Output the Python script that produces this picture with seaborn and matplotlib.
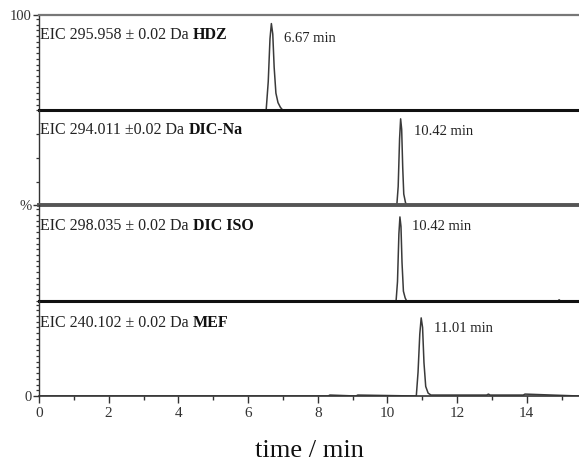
import matplotlib
matplotlib.use("Agg")
import matplotlib.pyplot as plt
import seaborn as sns
import numpy as np
from matplotlib.ticker import MultipleLocator, FixedLocator

sns.set_style("white")
plt.rcParams['font.family'] = ['Liberation Serif', 'DejaVu Serif']

# ---- data ----
mass_labels = ["EIC 295.958 \u00b1 0.02 Da ", "EIC 294.011 \u00b10.02 Da ",
               "EIC 298.035 \u00b1 0.02 Da ", "EIC 240.102 \u00b1 0.02 Da "]
compounds = ["HDZ", "DIC-Na", "DIC ISO", "MEF"]
rt_labels = ["6.67 min", "10.42 min", "10.42 min", "11.01 min"]

hdz_t = [0.0, 6.52, 6.58, 6.63, 6.67, 6.71, 6.75, 6.80, 6.86, 6.93, 7.0, 15.5]
hdz_i = [0, 0, 30, 75, 91, 80, 45, 18, 8, 3, 0, 0]

dicna_t = [0.0, 10.27, 10.31, 10.35, 10.38, 10.41, 10.44, 10.47, 10.52, 10.56, 15.5]
dicna_i = [0, 0, 20, 70, 91, 80, 40, 12, 3, 0, 0]

diciso_t = [0.0, 10.25, 10.29, 10.33, 10.36, 10.39, 10.42, 10.46, 10.51, 10.55, 14.9, 14.93, 14.96, 15.5]
diciso_i = [0, 0, 20, 70, 88, 78, 40, 10, 3, 0, 0, 1, 0, 0]

mef_t = [0.0, 8.3, 8.35, 9.1, 9.15, 10.83, 10.88, 10.93, 10.97, 11.01, 11.05, 11.10, 11.17, 11.25,
         11.8, 12.85, 12.9, 12.95, 13.9, 13.95, 15.5]
mef_i = [0, 0, 1, 0, 1, 0, 25, 65, 82, 72, 35, 10, 3, 1, 1, 1, 2, 1, 1, 2, 0]

traces = [(hdz_t, hdz_i), (dicna_t, dicna_i), (diciso_t, diciso_i), (mef_t, mef_i)]
x_ticks = [0, 2, 4, 6, 8, 10, 12, 14]
x_label = "time / min"

W, H = 579, 465
fig = plt.figure(figsize=(W / 100, H / 100), dpi=100)

left = 39 / W
right = 1.0
top = 1 - 15 / H
bottom = 1 - 396 / H
ph = (top - bottom) / 4

rt_pos = [6.67, 10.40, 10.36, 10.98]
label_dy = [20, 20, 20, 22]
rt_dy = [23, 21, 21, 28]

axes = []
for k in range(4):
    ax = fig.add_axes([left, top - (k + 1) * ph, right - left, ph])
    axes.append(ax)
    t, v = traces[k]
    sns.lineplot(x=t, y=v, ax=ax, color="#3a3a3a", lw=1.1)
    ax.set_xlim(0, 15.5)
    ax.set_ylim(0, 100)
    ax.set_facecolor("none")
    ax.set_xlabel("")
    ax.set_ylabel("")
    for s in ["right"]:
        ax.spines[s].set_visible(False)
    ax.spines["left"].set_color("#333333")
    ax.spines["left"].set_linewidth(1.0)
    ax.spines["top"].set_visible(k == 0)
    ax.spines["top"].set_color("#777777")
    ax.spines["top"].set_linewidth(1.6)
    if k < 3:
        ax.spines["bottom"].set_linewidth(2.2)
        ax.spines["bottom"].set_color("#111111" if k != 1 else "#555555")
        if k == 1:
            ax.spines["bottom"].set_linewidth(2.8)
        ax.tick_params(axis="x", which="both", bottom=False, labelbottom=False)
    else:
        ax.spines["bottom"].set_linewidth(1.2)
        ax.spines["bottom"].set_color("#333333")
    # y ticks
    if k == 1:
        ax.yaxis.set_minor_locator(FixedLocator([25, 50, 75]))
    else:
        ax.yaxis.set_minor_locator(MultipleLocator(6))
    ax.yaxis.set_major_locator(FixedLocator([]))
    ax.tick_params(axis="y", which="minor", left=True, length=2.5, width=0.9, color="#333333", direction="out")
    ax.tick_params(axis="y", which="major", left=True, length=4, width=1.0, color="#333333", direction="out")

    # labels
    t1 = ax.annotate(mass_labels[k], xy=(0, 1), xycoords="axes fraction",
                     xytext=(1, -label_dy[k] * 0.72), textcoords="offset points",
                     ha="left", va="center", fontsize=11.5, color="#222222")
    ax.annotate(compounds[k], xy=(1, 0.5), xycoords=t1, ha="left", va="center",
                fontsize=11.5, fontweight="bold", color="#111111")
    ax.annotate(rt_labels[k], xy=(rt_pos[k], 100), xycoords=("data", "data"),
                xytext=(9, -rt_dy[k] * 0.72), textcoords="offset points",
                ha="left", va="center", fontsize=10.5, color="#222222")

# y labels "100", "%", "0"
axes[0].set_yticks([100])
axes[0].set_yticklabels(["100"], fontsize=10.5)
axes[1].set_yticks([0])
axes[1].set_yticklabels(["%"], fontsize=10.5)
axes[3].set_yticks([0])
axes[3].set_yticklabels(["0"], fontsize=10.5)
for ax in axes:
    ax.tick_params(axis="y", which="major", pad=1, labelcolor="#333333")

ax = axes[3]
ax.set_xticks(x_ticks)
ax.set_xticklabels([str(v) for v in x_ticks], fontsize=11, color="#333333")
ax.xaxis.set_minor_locator(MultipleLocator(1))
ax.tick_params(axis="x", which="major", bottom=True, length=5, width=1.0, color="#333333", direction="out", pad=3)
ax.tick_params(axis="x", which="minor", bottom=True, length=3, width=1.0, color="#333333", direction="out")
fig.text(0.535, 1 - 451 / H, x_label, ha="center", va="center", fontsize=19, color="#111111")

fig.savefig("out.png", dpi=100)
